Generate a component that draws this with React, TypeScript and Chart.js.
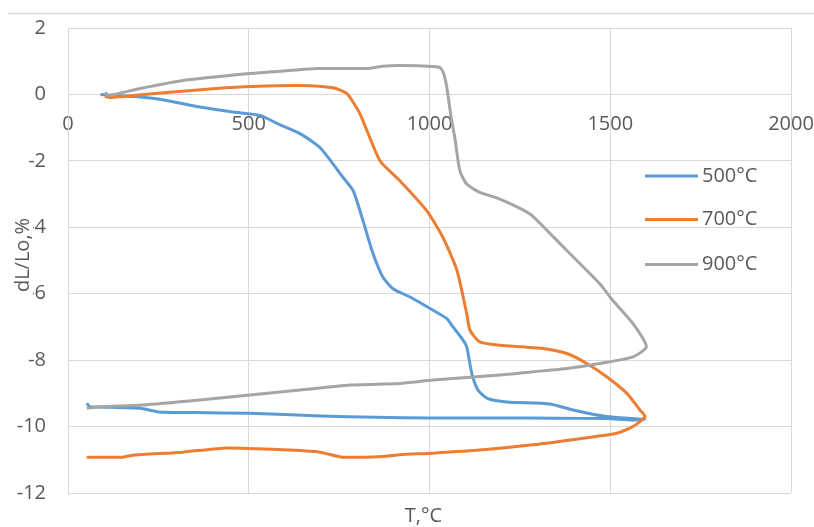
import React, { useEffect, useRef } from "react";
import { Chart, registerables } from "chart.js";

Chart.register(...registerables);

const seriesLabels = ["500°C", "700°C", "900°C"];
const xTitle = "T,°C";
const yTitle = "dL/Lo,%";

const t500 = [90, 130, 200, 273, 365, 456, 531, 578, 642, 697, 761, 789, 816, 844, 871, 899, 946, 1010, 1048, 1065, 1090, 1103, 1117, 1134, 1160, 1214, 1333, 1397, 1490, 1560, 1596, 1560, 1490, 1350, 1200, 1000, 850, 700, 500, 350, 250, 200, 120, 60, 52];
const d500 = [0, -0.03, -0.08, -0.18, -0.38, -0.53, -0.63, -0.87, -1.18, -1.6, -2.5, -2.9, -3.8, -4.8, -5.5, -5.85, -6.1, -6.5, -6.75, -7.0, -7.35, -7.6, -8.4, -8.9, -9.15, -9.26, -9.32, -9.5, -9.7, -9.76, -9.78, -9.8, -9.76, -9.75, -9.74, -9.74, -9.72, -9.68, -9.6, -9.58, -9.56, -9.45, -9.42, -9.4, -9.3];

const t700 = [102, 115, 180, 273, 410, 510, 642, 733, 771, 807, 863, 918, 992, 1037, 1076, 1103, 1112, 1139, 1195, 1258, 1314, 1380, 1435, 1490, 1546, 1582, 1596, 1563, 1518, 1425, 1286, 1148, 1010, 918, 871, 760, 697, 595, 429, 318, 180, 152, 52];
const d700 = [-0.05, -0.09, -0.03, 0.06, 0.18, 0.24, 0.27, 0.2, 0.03, -0.57, -2.0, -2.6, -3.5, -4.3, -5.3, -6.6, -7.1, -7.45, -7.55, -7.6, -7.65, -7.8, -8.1, -8.5, -9.0, -9.5, -9.7, -10.0, -10.2, -10.35, -10.55, -10.7, -10.8, -10.85, -10.9, -10.92, -10.77, -10.7, -10.65, -10.77, -10.86, -10.92, -10.92];

const t900 = [103, 112, 200, 318, 503, 614, 688, 827, 871, 918, 1010, 1030, 1040, 1048, 1060, 1070, 1084, 1103, 1139, 1195, 1278, 1330, 1380, 1471, 1507, 1563, 1600, 1563, 1471, 1380, 1286, 1195, 1010, 918, 780, 642, 503, 365, 207, 88, 52];
const d900 = [0.06, -0.03, 0.18, 0.42, 0.63, 0.72, 0.78, 0.78, 0.85, 0.87, 0.84, 0.8, 0.6, 0.2, -0.7, -1.3, -2.3, -2.7, -2.95, -3.15, -3.6, -4.15, -4.7, -5.7, -6.2, -6.9, -7.6, -7.9, -8.1, -8.25, -8.35, -8.45, -8.6, -8.7, -8.75, -8.9, -9.05, -9.2, -9.35, -9.4, -9.45];

const xMin = 0;
const xMax = 2000;
const xStep = 500;
const yMin = -12;
const yMax = 2;
const yStep = 2;

const COLORS = ["#5B9BD5", "#ED7D31", "#A5A5A5"];
const TEXT = "#595959";
const GRID = "#d9d9d9";
const FONT_FAMILY = "'Open Sans', 'Noto Sans', sans-serif";

const toPoints = (xs: number[], ys: number[]) => xs.map((x, i) => ({ x, y: ys[i] }));

const overlayPlugin = {
  id: "overlay",
  afterDraw(chart: any) {
    const ctx = chart.ctx as CanvasRenderingContext2D;
    const area = chart.chartArea;
    ctx.save();
    ctx.strokeStyle = GRID;
    ctx.lineWidth = 1.5;
    ctx.beginPath();
    ctx.moveTo(8, 13.5);
    ctx.lineTo(814, 13.5);
    ctx.stroke();

    ctx.font = `20px ${FONT_FAMILY}`;
    ctx.textBaseline = "middle";

    const legendYs = [176, 219.5, 264.5];
    chart.data.datasets.forEach((ds: any, i: number) => {
      const y = legendYs[i];
      ctx.strokeStyle = ds.borderColor;
      ctx.lineWidth = 3;
      ctx.beginPath();
      ctx.moveTo(645, y);
      ctx.lineTo(698, y);
      ctx.stroke();
      ctx.fillStyle = TEXT;
      ctx.textAlign = "left";
      ctx.fillText(ds.label, 702, y);
    });

    ctx.fillStyle = TEXT;
    ctx.textAlign = "center";
    ctx.fillText(xTitle, (area.left + area.right) / 2 - 6, 516);

    ctx.translate(22, 255);
    ctx.rotate(-Math.PI / 2);
    const w = ctx.measureText(yTitle).width;
    ctx.fillStyle = "#ffffff";
    ctx.fillRect(-w / 2 - 3, -11, w + 6, 22);
    ctx.fillStyle = TEXT;
    ctx.textAlign = "center";
    ctx.fillText(yTitle, 0, 1);
    ctx.restore();
  },
};

export default function App() {
  const canvasRef = useRef<HTMLCanvasElement | null>(null);

  useEffect(() => {
    if (!canvasRef.current) return;
    const font = { family: FONT_FAMILY, size: 20 };
    const zeroPad = (scale: any) => {
      scale.paddingLeft = 0;
      scale.paddingRight = 0;
      scale.paddingTop = 0;
      scale.paddingBottom = 0;
    };
    const chart = new Chart(canvasRef.current, {
      type: "scatter",
      data: {
        datasets: [
          { label: seriesLabels[0], data: toPoints(t500, d500), borderColor: COLORS[0], order: 2 },
          { label: seriesLabels[1], data: toPoints(t700, d700), borderColor: COLORS[1], order: 1 },
          { label: seriesLabels[2], data: toPoints(t900, d900), borderColor: COLORS[2], order: 0 },
        ].map((d) => ({
          ...d,
          showLine: true,
          pointRadius: 0,
          borderWidth: 3,
          tension: 0.2,
          fill: false,
          backgroundColor: d.borderColor,
        })),
      },
      options: {
        responsive: false,
        animation: false,
        layout: { padding: { left: 0, right: 23, top: 28, bottom: 34 } },
        plugins: {
          legend: { display: false },
          tooltip: { enabled: false },
          title: { display: false },
        },
        scales: {
          x: {
            type: "linear",
            min: xMin,
            max: xMax,
            position: { y: 0 } as any,
            ticks: {
              stepSize: xStep,
              color: TEXT,
              font,
              padding: 18,
              maxRotation: 0,
              callback: (v: any) => String(v),
            },
            grid: { color: GRID, drawTicks: false, lineWidth: 1 },
            border: { color: GRID, width: 1 },
            afterFit: zeroPad,
          },
          y: {
            type: "linear",
            min: yMin,
            max: yMax,
            ticks: { stepSize: yStep, color: TEXT, font, padding: 22, callback: (v: any) => String(v) },
            grid: { color: GRID, drawTicks: false, lineWidth: 1 },
            border: { color: GRID, width: 1 },
            afterFit: (scale: any) => {
              zeroPad(scale);
              scale.width = 68;
            },
          },
        },
      },
      plugins: [overlayPlugin],
    } as any);
    return () => chart.destroy();
  }, []);

  return (
    <div style={{ position: "fixed", left: 0, top: 0, width: 814, height: 527, background: "#ffffff" }}>
      <canvas ref={canvasRef} width={814} height={527} style={{ display: "block" }} />
    </div>
  );
}
